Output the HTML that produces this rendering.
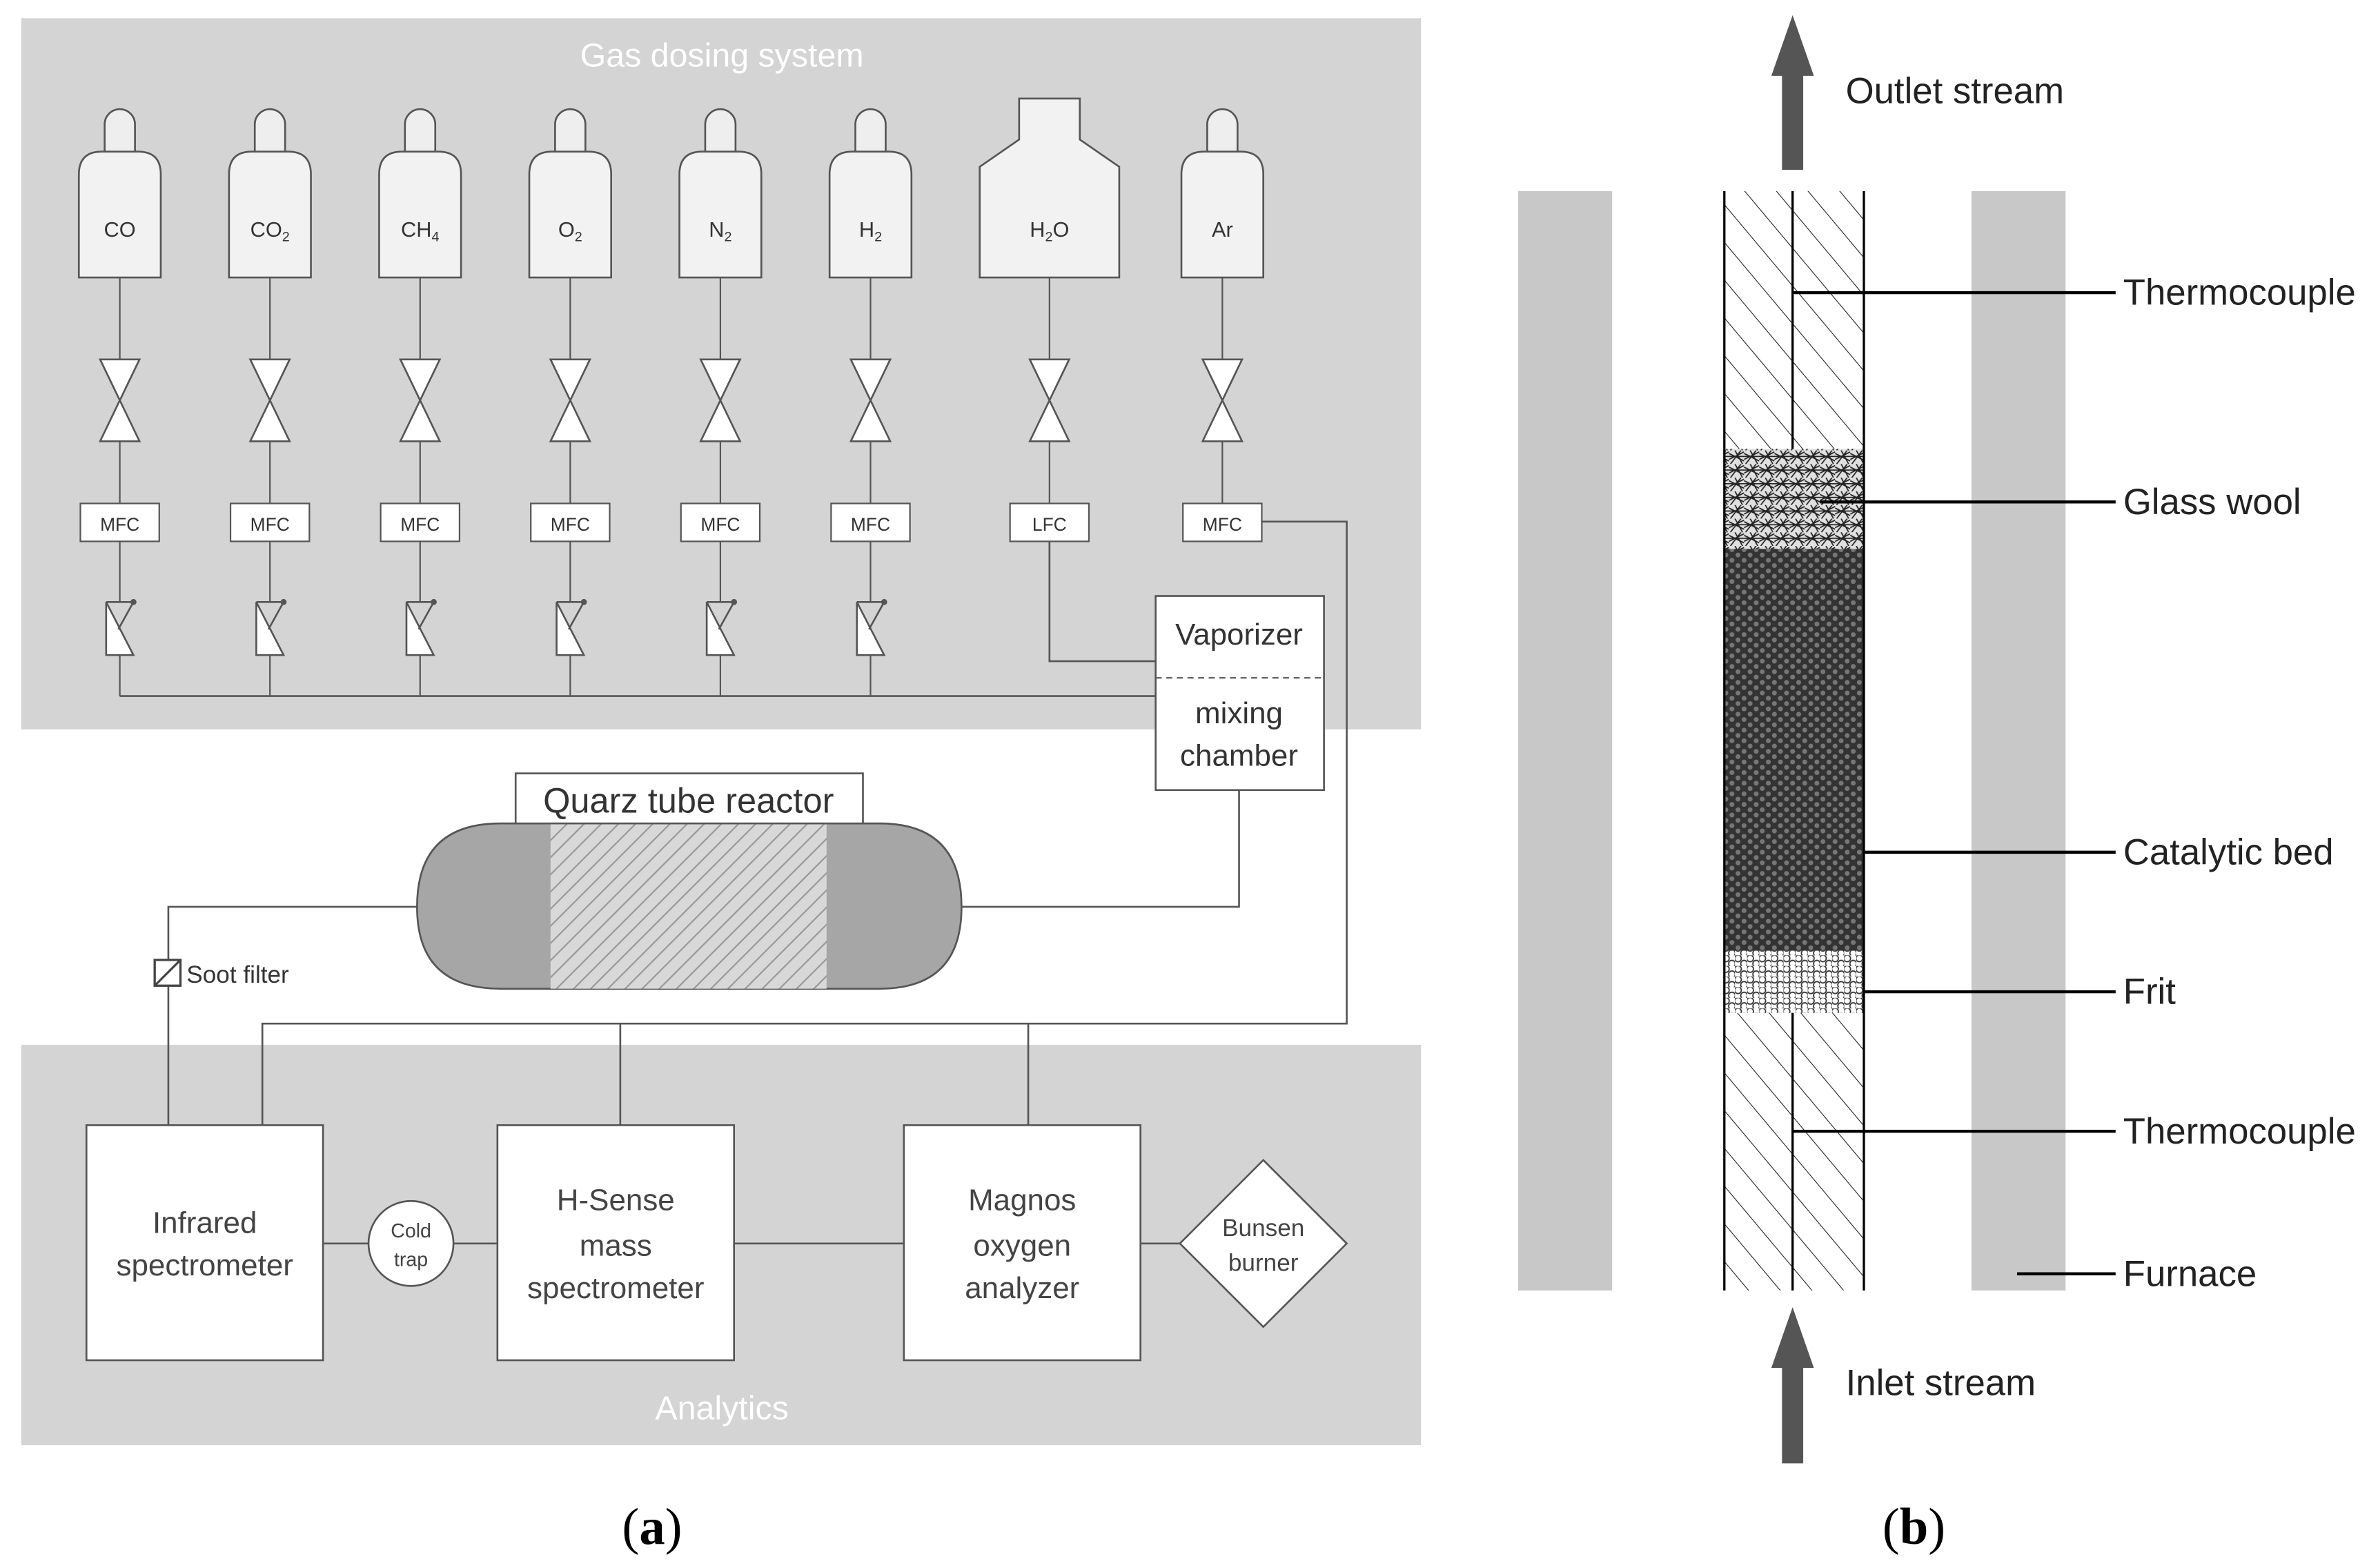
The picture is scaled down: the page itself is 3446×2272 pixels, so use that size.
<!DOCTYPE html>
<html><head><meta charset="utf-8"><style>html,body{margin:0;padding:0;background:#fff}svg{display:block}</style></head><body>
<svg width="3446" height="2272" viewBox="0 0 1568 1034" preserveAspectRatio="none" xmlns="http://www.w3.org/2000/svg" font-family="Liberation Sans, sans-serif">
<defs>
<pattern id="hatch" width="8" height="8" patternUnits="userSpaceOnUse" patternTransform="rotate(45)"><rect width="8" height="8" fill="#d8d8d8"/><line x1="0" y1="0" x2="0" y2="8" stroke="#999" stroke-width="2"/></pattern>
<pattern id="tubeh" width="16" height="16" patternUnits="userSpaceOnUse" patternTransform="rotate(-40)"><rect width="16" height="16" fill="#fff"/><line x1="0" y1="0" x2="0" y2="16" stroke="#222" stroke-width="1"/></pattern>
<pattern id="bed" width="8" height="7" patternUnits="userSpaceOnUse"><rect width="8" height="7" fill="#333"/><circle cx="2" cy="2" r="1.6" fill="#777"/><circle cx="6" cy="5.5" r="1.6" fill="#777"/></pattern>
<pattern id="frit" width="8" height="7" patternUnits="userSpaceOnUse"><rect width="8" height="7" fill="#fff"/><circle cx="2" cy="2" r="2.2" fill="none" stroke="#333" stroke-width="0.8"/><circle cx="6" cy="5.5" r="2.2" fill="none" stroke="#333" stroke-width="0.8"/></pattern>
<pattern id="wool" width="10" height="9" patternUnits="userSpaceOnUse"><rect width="10" height="9" fill="#e0e0e0"/><path d="M0 2 L10 7 M1 9 L8 0 M0 6 L10 1 M4 0 L9 9 M0 4 L10 4" stroke="#222" stroke-width="0.8" fill="none"/></pattern>
<g id="valve"><path d="M-13 0 L13 0 L0 27 Z M-13 54 L13 54 L0 27 Z" fill="#fff" stroke="#555" stroke-width="1.2"/></g>
<g id="check"><path d="M-9 0 L9 35 L-9 35 Z" fill="#fff" stroke="#555" stroke-width="1.2"/><path d="M-9 0 L9 0 L-1 18" fill="none" stroke="#555" stroke-width="1.2"/><circle cx="9" cy="0" r="2" fill="#555"/></g>
<g id="cyl"><rect x="-10" y="72" width="20" height="40" rx="10" fill="#eee" stroke="#555" stroke-width="1.2"/><path d="M-27 183 L-27 115 Q-27 100 -12 100 L12 100 Q27 100 27 115 L27 183 Z" fill="#f2f2f2" stroke="#555" stroke-width="1.2"/></g>
</defs>
<rect width="1568" height="1034" fill="#fff"/>
<rect x="14" y="12" width="923" height="469" fill="#d4d4d4"/>
<rect x="14" y="689" width="923" height="264" fill="#d4d4d4"/>
<text x="476" y="44" fill="#fff" font-size="22" text-anchor="middle">Gas dosing system</text>
<text x="476" y="936" fill="#fff" font-size="22" text-anchor="middle">Analytics</text>
<g stroke="#555" stroke-width="1.2" fill="none">
<path d="M79 459 H762 M692 357 V436 H762 M832 344 H888 V675 H173 V742 M409 675 V742 M678 675 V742 M817 521 V598 H634 M275 598 H111 V742 M213 820 H243 M299 820 H328 M484 820 H596 M752 820 H778"/>
</g>
<g font-size="14" text-anchor="middle" fill="#333">
<g transform="translate(79,0)"><use href="#cyl"/><line y1="183" y2="237" stroke="#555"/><use href="#valve" y="237"/><line y1="291" y2="332" stroke="#555"/><rect x="-26" y="332" width="52" height="25" fill="#fff" stroke="#555"/><text y="350" font-size="12">MFC</text><line y1="357" y2="397" stroke="#555"/><use href="#check" y="397"/><line y1="432" y2="459" stroke="#555"/><text y="156">CO</text></g>
<g transform="translate(178,0)"><use href="#cyl"/><line y1="183" y2="237" stroke="#555"/><use href="#valve" y="237"/><line y1="291" y2="332" stroke="#555"/><rect x="-26" y="332" width="52" height="25" fill="#fff" stroke="#555"/><text y="350" font-size="12">MFC</text><line y1="357" y2="397" stroke="#555"/><use href="#check" y="397"/><line y1="432" y2="459" stroke="#555"/><text y="156">CO<tspan font-size="9" dy="3">2</tspan></text></g>
<g transform="translate(277,0)"><use href="#cyl"/><line y1="183" y2="237" stroke="#555"/><use href="#valve" y="237"/><line y1="291" y2="332" stroke="#555"/><rect x="-26" y="332" width="52" height="25" fill="#fff" stroke="#555"/><text y="350" font-size="12">MFC</text><line y1="357" y2="397" stroke="#555"/><use href="#check" y="397"/><line y1="432" y2="459" stroke="#555"/><text y="156">CH<tspan font-size="9" dy="3">4</tspan></text></g>
<g transform="translate(376,0)"><use href="#cyl"/><line y1="183" y2="237" stroke="#555"/><use href="#valve" y="237"/><line y1="291" y2="332" stroke="#555"/><rect x="-26" y="332" width="52" height="25" fill="#fff" stroke="#555"/><text y="350" font-size="12">MFC</text><line y1="357" y2="397" stroke="#555"/><use href="#check" y="397"/><line y1="432" y2="459" stroke="#555"/><text y="156">O<tspan font-size="9" dy="3">2</tspan></text></g>
<g transform="translate(475,0)"><use href="#cyl"/><line y1="183" y2="237" stroke="#555"/><use href="#valve" y="237"/><line y1="291" y2="332" stroke="#555"/><rect x="-26" y="332" width="52" height="25" fill="#fff" stroke="#555"/><text y="350" font-size="12">MFC</text><line y1="357" y2="397" stroke="#555"/><use href="#check" y="397"/><line y1="432" y2="459" stroke="#555"/><text y="156">N<tspan font-size="9" dy="3">2</tspan></text></g>
<g transform="translate(574,0)"><use href="#cyl"/><line y1="183" y2="237" stroke="#555"/><use href="#valve" y="237"/><line y1="291" y2="332" stroke="#555"/><rect x="-26" y="332" width="52" height="25" fill="#fff" stroke="#555"/><text y="350" font-size="12">MFC</text><line y1="357" y2="397" stroke="#555"/><use href="#check" y="397"/><line y1="432" y2="459" stroke="#555"/><text y="156">H<tspan font-size="9" dy="3">2</tspan></text></g>
<g transform="translate(692,0)"><path d="M-46 183 V110 L-20 92 V65 H20 V92 L46 110 V183 Z" fill="#f2f2f2" stroke="#555" stroke-width="1.2"/><line y1="183" y2="237" stroke="#555"/><use href="#valve" y="237"/><line y1="291" y2="332" stroke="#555"/><rect x="-26" y="332" width="52" height="25" fill="#fff" stroke="#555"/><text y="350" font-size="12">LFC</text><text y="156">H<tspan font-size="9" dy="3">2</tspan><tspan dy="-3">O</tspan></text></g>
<g transform="translate(806,0)"><use href="#cyl"/><line y1="183" y2="237" stroke="#555"/><use href="#valve" y="237"/><line y1="291" y2="332" stroke="#555"/><rect x="-26" y="332" width="52" height="25" fill="#fff" stroke="#555"/><text y="350" font-size="12">MFC</text><text y="156">Ar</text></g>
</g>
<rect x="762" y="393" width="111" height="128" fill="#fff" stroke="#555" stroke-width="1.2"/>
<line x1="762" y1="447" x2="873" y2="447" stroke="#555" stroke-dasharray="4,3"/>
<g font-size="20" fill="#333" text-anchor="middle"><text x="817" y="425">Vaporizer</text><text x="817" y="477">mixing</text><text x="817" y="505">chamber</text></g>
<path d="M330 543 H580 Q634 543 634 598 Q634 652 580 652 H330 Q275 652 275 598 Q275 543 330 543 Z" fill="#a6a6a6" stroke="#555" stroke-width="1.2"/>
<rect x="363" y="543" width="182" height="109" fill="url(#hatch)"/>
<rect x="340" y="510" width="229" height="33" fill="#fff" stroke="#555" stroke-width="1.2"/>
<text x="454" y="536" font-size="23" fill="#333" text-anchor="middle">Quarz tube reactor</text>
<rect x="102" y="633" width="17" height="17" fill="#fff" stroke="#444" stroke-width="1.5"/><line x1="102" y1="650" x2="119" y2="633" stroke="#444" stroke-width="1.5"/>
<text x="123" y="648" font-size="16" fill="#333">Soot filter</text>
<g fill="#fff" stroke="#555" stroke-width="1.2"><rect x="57" y="742" width="156" height="155"/><rect x="328" y="742" width="156" height="155"/><rect x="596" y="742" width="156" height="155"/><circle cx="271" cy="820" r="28"/><path d="M833 765 L888 820 L833 875 L778 820 Z"/></g>
<g fill="#444" text-anchor="middle" font-size="20">
<text x="135" y="813">Infrared</text><text x="135" y="841">spectrometer</text>
<text x="406" y="798">H-Sense</text><text x="406" y="828">mass</text><text x="406" y="856">spectrometer</text>
<text x="674" y="798">Magnos</text><text x="674" y="828">oxygen</text><text x="674" y="856">analyzer</text>
<text x="271" y="816" font-size="13">Cold</text><text x="271" y="835" font-size="13">trap</text>
<text x="833" y="815" font-size="16">Bunsen</text><text x="833" y="838" font-size="16">burner</text>
</g>
<text x="430" y="1018" font-family="Liberation Serif, serif" font-size="34" text-anchor="middle">(<tspan font-weight="bold">a</tspan>)</text>
<text x="1262" y="1018" font-family="Liberation Serif, serif" font-size="34" text-anchor="middle">(<tspan font-weight="bold">b</tspan>)</text>
<rect x="1001" y="126" width="62" height="725" fill="#c8c8c8"/>
<rect x="1300" y="126" width="62" height="725" fill="#c8c8c8"/>
<rect x="1137" y="126" width="92" height="725" fill="url(#tubeh)"/>
<rect x="1137" y="296" width="92" height="66" fill="url(#wool)"/>
<rect x="1137" y="362" width="92" height="265" fill="url(#bed)"/>
<rect x="1137" y="627" width="92" height="41" fill="url(#frit)"/>
<line x1="1182" y1="126" x2="1182" y2="296" stroke="#000" stroke-width="1.5"/>
<line x1="1182" y1="668" x2="1182" y2="851" stroke="#000" stroke-width="1.5"/>
<line x1="1137" y1="126" x2="1137" y2="851" stroke="#000" stroke-width="1.5"/>
<line x1="1229" y1="126" x2="1229" y2="851" stroke="#000" stroke-width="1.5"/>
<path d="M1175 112 V50 H1168 L1182 10 L1196 50 H1189 V112 Z" fill="#555"/>
<path d="M1175 965 V902 H1168 L1182 862 L1196 902 H1189 V965 Z" fill="#555"/>
<g stroke="#000" stroke-width="2"><line x1="1182" y1="193" x2="1395" y2="193"/><line x1="1200" y1="331" x2="1395" y2="331"/><line x1="1229" y1="562" x2="1395" y2="562"/><line x1="1229" y1="654" x2="1395" y2="654"/><line x1="1182" y1="746" x2="1395" y2="746"/><line x1="1330" y1="840" x2="1395" y2="840"/></g>
<g font-size="24" fill="#222"><text x="1217" y="68">Outlet stream</text><text x="1217" y="920">Inlet stream</text>
<text x="1400" y="201">Thermocouple</text><text x="1400" y="339">Glass wool</text><text x="1400" y="570">Catalytic bed</text><text x="1400" y="662">Frit</text><text x="1400" y="754">Thermocouple</text><text x="1400" y="848">Furnace</text></g>
</svg>
</body></html>
